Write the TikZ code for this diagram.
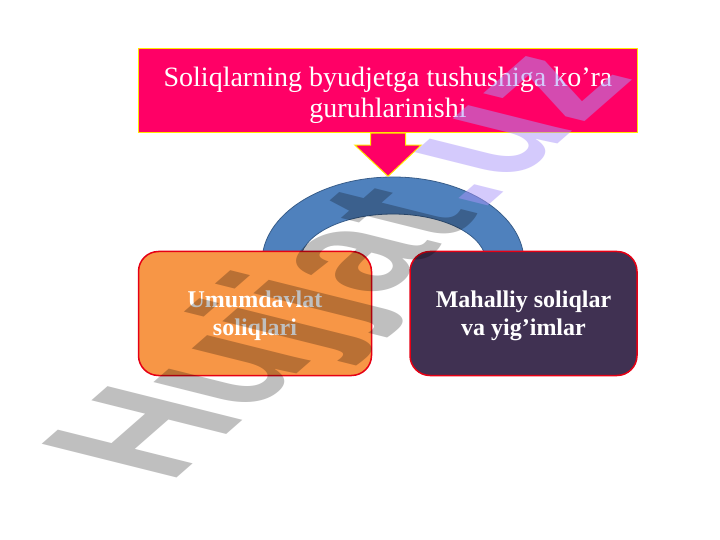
\documentclass[tikz,border=0pt]{standalone}
\usepackage{fontspec}
\setmainfont{Liberation Serif}
\newfontfamily\wmfont{Liberation Sans}
\usepackage{tikz}
\usetikzlibrary{positioning}
\definecolor{titlepink}{RGB}{255,0,102}
\definecolor{edgeyellow}{RGB}{255,230,0}
\definecolor{arcblue}{RGB}{79,129,189}
\definecolor{arcedge}{RGB}{56,93,138}
\definecolor{boxorange}{RGB}{247,150,70}
\definecolor{boxpurple}{RGB}{64,49,82}
\definecolor{boxedge}{RGB}{230,0,20}
\definecolor{wmgray}{RGB}{191,191,191}
\definecolor{wmlav}{RGB}{170,150,250}

\begin{document}
\begin{tikzpicture}[x=1bp, y=-1bp]
	\tikzstyle{TitleStyle} = [rectangle, fill=titlepink, draw=edgeyellow, line width=1.5bp, minimum width=499bp, minimum height=84bp, inner sep=0pt, text=white, align=center, text height=60bp, font=\fontsize{28bp}{31bp}\selectfont]
	\tikzstyle{GroupStyle}  = [rectangle, rounded corners=20bp, draw=boxedge, line width=1.5bp, minimum width=233bp, minimum height=124bp, text=white, align=center, text height=50bp, font=\bfseries\fontsize{24bp}{28bp}\selectfont]
	\tikzstyle{ArcStyle}    = [fill=arcblue, draw=arcedge, line width=0.8bp]
	\tikzstyle{ArrowStyle}  = [fill=titlepink, draw=edgeyellow, line width=1bp, line join=miter]
	\tikzstyle{MarkStyle}   = [transform shape, inner sep=0pt, font=\wmfont\bfseries\fontsize{100bp}{100bp}\selectfont]
	\fill[white] (0,0) rectangle (720,540);
	\useasboundingbox (0,0) rectangle (720,540);
	%\draw[help lines, step=20] (0,0) grid (720,540);

	% blue arch behind the two boxes
	\draw[ArcStyle] (262,262) arc[start angle=180, end angle=360, x radius=131, y radius=85]
		-- (486,262) arc[start angle=0, end angle=-180, x radius=93, y radius=48] -- cycle;

	\node[TitleStyle] (title) at (388,90.5) {Soliqlarning byudjetga tushushiga ko’ra\\guruhlarinishi};
	\draw[ArrowStyle] ([xshift=-17.5bp]title.south) -- ++(0,12) -- ++(-15.5,0) -- ++(33,31)
		-- ++(33,-31) -- ++(-15.5,0) -- ++(0,-12) -- cycle;

	\node[GroupStyle, fill=boxorange] (state) at (255,313.5) {Umumdavlat\\soliqlari};
	\node[GroupStyle, fill=boxpurple, minimum width=227bp, right=37bp of state] (local) {Mahalliy soliqlar\\va yig’imlar};

	% watermark
	\begin{scope}[cm={1.12,0.98,-1.96,0.49,(169,485)}]
		\node[MarkStyle, anchor=base west, text=wmgray, blend mode=multiply] (mark) at (0,0) {Hujjat};
		\node[MarkStyle, anchor=base west, text=wmlav, opacity=0.5] (markuz) at (mark.base east) {.uz};
	\end{scope}
\end{tikzpicture}
\end{document}
